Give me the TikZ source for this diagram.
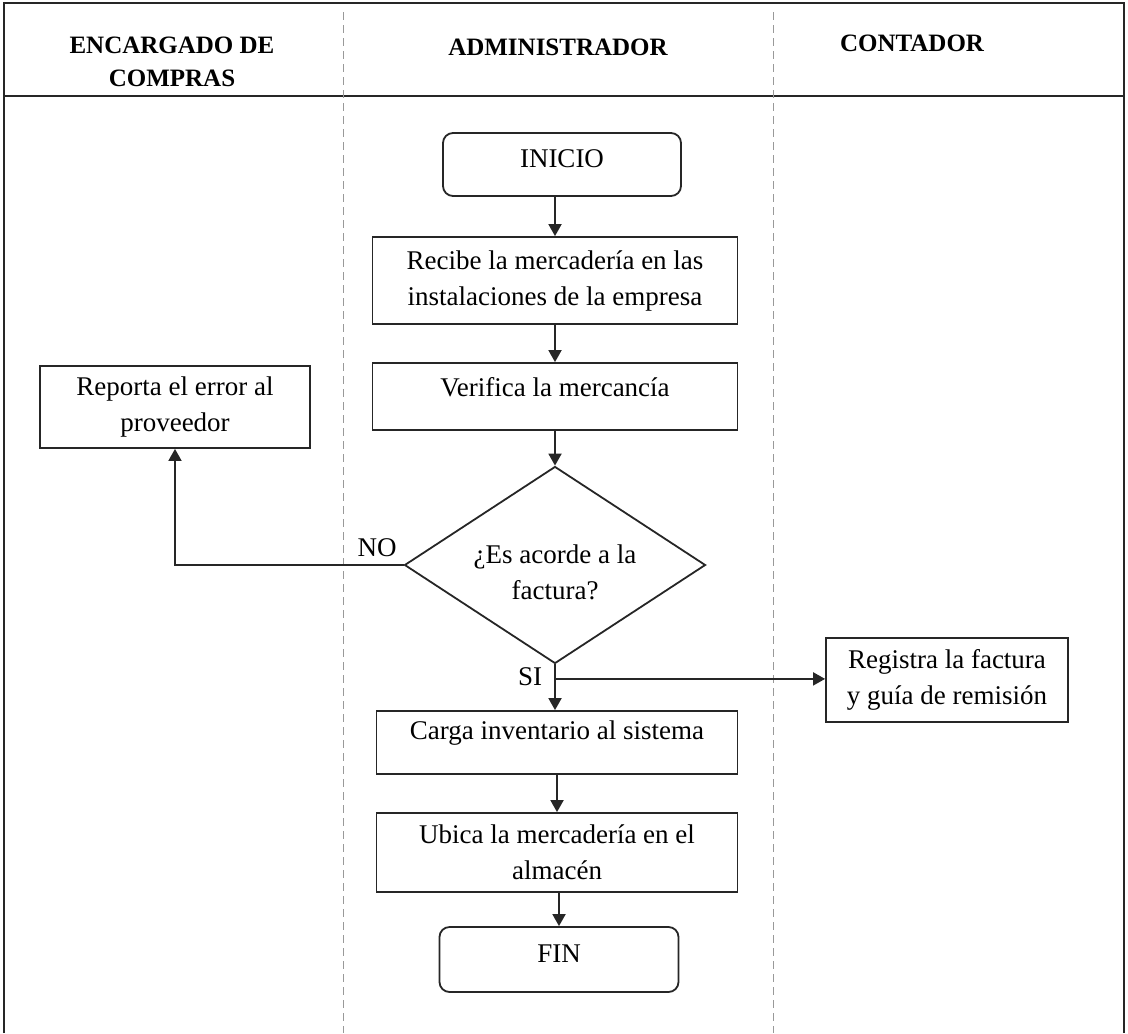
\documentclass[tikz,border=0pt]{standalone}
\usepackage{fontspec}
\setmainfont{Liberation Serif}
\usetikzlibrary{shapes.geometric,arrows.meta,calc}

\begin{document}
\begin{tikzpicture}[x=0.5pt,y=-0.5pt,
  frame/.style={line width=1pt,draw=black!85},
  lane/.style={draw=black!40,line width=0.5pt,dash pattern=on 4pt off 2.5pt},
  hdr/.style={font=\bfseries\fontsize{12.5}{16.5}\selectfont,align=center,inner sep=0pt},
  body/.style={font=\fontsize{13.5}{18}\selectfont,align=center},
  proc/.style={body,draw=black!85,line width=0.9pt,rectangle,inner sep=0pt},
  term/.style={proc,rounded corners=5pt},
  decision/.style={draw=black!85,line width=0.9pt,diamond,inner sep=0pt},
  arr/.style={draw=black!85,line width=0.9pt,-{Triangle[length=6pt,width=6.5pt]}},
  tag/.style={body,inner sep=0pt}]

\useasboundingbox (0,0) rectangle (1128,1033);

% table frame, header rule and swimlane separators
\draw[frame] (4,1033) -- (4,3) -- (1124,3) -- (1124,1033);
\draw[frame] (4,96) -- (1124,96);
\draw[lane] (343,12) -- (343,1033);
\draw[lane] (773,12) -- (773,1033);

% lane headers
\node[hdr] (hA) at (172,62) {ENCARGADO DE\\COMPRAS};
\node[hdr] (hB) at (558,47) {ADMINISTRADOR};
\node[hdr] (hC) at (912,43) {CONTADOR};

% process steps
\node[term, minimum width=119pt, minimum height=31.5pt, text depth=6pt] (ini) at (562,164.5) {INICIO};
\node[proc, minimum width=182.5pt, minimum height=43.5pt] (rec) at (555,280.5)
  {Recibe la mercadería en las\\instalaciones de la empresa};
\node[proc, minimum width=182.5pt, minimum height=33.5pt, text depth=10pt] (ver) at (555,396.5)
  {Verifica la mercancía};
\node[decision, minimum width=150.5pt, minimum height=98.5pt] (dec) at (555,565) {};
\node[tag] (decT) at ($(dec.center)+(0,7)$) {¿Es acorde a la\\factura?};
\node[proc, minimum width=135pt, minimum height=41pt] (rep) at (175,407)
  {Reporta el error al\\proveedor};
\node[proc, minimum width=121pt, minimum height=42pt] (reg) at (947,680)
  {Registra la factura\\y guía de remisión};
\node[proc, minimum width=180.5pt, minimum height=31.5pt, text depth=12pt] (car) at (557,742.5)
  {Carga inventario al sistema};
\node[proc, minimum width=180.5pt, minimum height=39.5pt] (ubi) at (557,852.5)
  {Ubica la mercadería en el\\almacén};
\node[term, minimum width=119.5pt, minimum height=32.5pt, text depth=6pt] (fin) at (559,959.5) {FIN};

% branch labels
\node[tag] (no) at (377,548) {NO};
\node[tag] (si) at (530,677) {SI};

% connectors
\draw[arr] (ini.south -| rec.north) -- (rec.north);
\draw[arr] (rec.south) -- (ver.north);
\draw[arr] (ver.south) -- (dec.north);
\draw[arr] (dec.west) -| (rep.south);
\draw[arr] (dec.south) -- (dec.south |- car.north);
\coordinate (sij) at ($(dec.south)+(0,14.5)$);
\draw[arr] (sij) -- (sij -| reg.west);
\draw[arr] (car.south) -- (car.south |- ubi.north);
\draw[arr] (fin.north |- ubi.south) -- (fin.north);
\end{tikzpicture}
\end{document}
